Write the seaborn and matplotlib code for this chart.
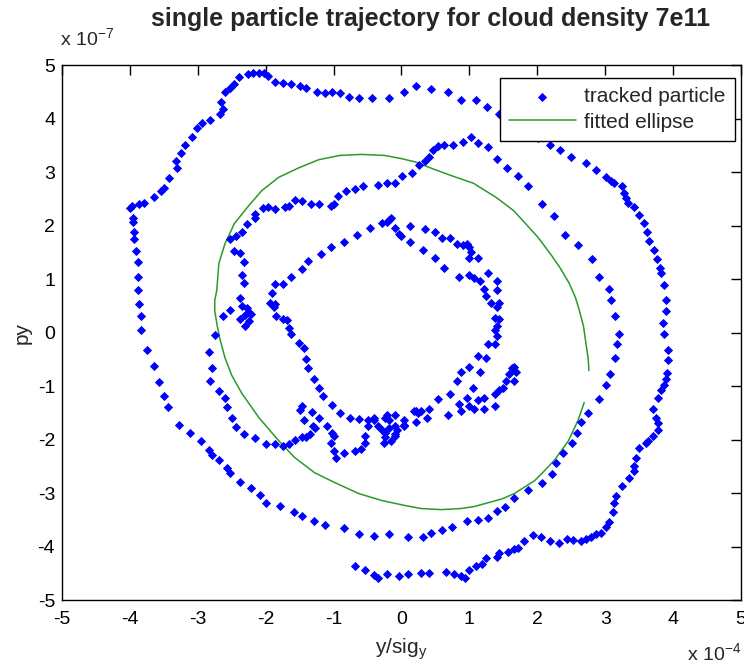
import numpy as np
import pandas as pd
from matplotlib import pyplot as plt
import seaborn as sns

# trajectory values, x in units of 1e-4 (y/sig_y), y in units of 1e-7 (py)
traj_x = [
    -0.69, -0.54, -0.41, -0.34, -0.22, -0.04, 0.10, 0.29, 0.41, 0.66, 0.78, 0.88, 0.93, 1.00, 1.10, 1.18,
    1.25, 1.40, 1.44, 1.57, 1.66, 1.72, 1.81, 1.94, 2.06, 2.18, 2.32, 2.43, 2.53, 2.65, 2.72, 2.79,
    2.87, 2.94, 3.01, 3.06, 3.12, 3.13, 3.16, 3.24, 3.35, 3.43, 3.43, 3.46, 3.50, 3.60, 3.63, 3.71,
    3.78, 3.78, 3.75, 3.71, 3.78, 3.82, 3.87, 3.90, 3.91, 3.93, 3.93, 3.87, 3.85, 3.90, 3.90, 3.87,
    3.82, 3.81, 3.76, 3.72, 3.65, 3.62, 3.57, 3.50, 3.43, 3.34, 3.31, 3.28, 3.24, 3.13, 3.09, 3.01,
    2.87, 2.72, 2.50, 2.34, 2.18, 2.01, 1.84, 1.65, 1.54, 1.44, 1.26, 1.09, 0.87, 0.68, 0.44, 0.22,
    0.03, -0.19, -0.43, -0.62, -0.78, -0.91, -1.03, -1.13, -1.25, -1.40, -1.49, -1.62, -1.74, -1.87, -1.96, -2.03,
    -2.10, -2.18, -2.26, -2.40, -2.47, -2.53, -2.60, -2.66, -2.63, -2.68, -2.82, -2.94, -3.01, -3.09, -3.19, -3.25,
    -3.32, -3.31, -3.43, -3.50, -3.54, -3.65, -3.79, -3.87, -3.97, -4.00, -3.96, -3.96, -3.94, -3.94, -3.91, -3.88,
    -3.88, -3.88, -3.87, -3.84, -3.84, -3.75, -3.65, -3.57, -3.50, -3.44, -3.28, -3.12, -2.96, -2.84, -2.79, -2.69,
    -2.57, -2.53, -2.38, -2.21, -2.09, -1.99, -1.79, -1.59, -1.47, -1.29, -1.12, -0.84, -0.63, -0.40, -0.18, 0.10,
    0.32, 0.44, 0.60, 0.74, 0.97, 1.12, 1.28, 1.40, 1.53, 1.66, 1.87, 2.07, 2.21, 2.28, 2.38, 2.51,
    2.59, 2.65, 2.75, 2.91, 3.01, 3.07, 3.15, 3.18, 3.21, 3.15, 3.09, 3.06, 2.91, 2.81, 2.60, 2.41,
    2.24, 2.07, 1.87, 1.71, 1.56, 1.41, 1.28, 1.13, 1.03, 0.91, 0.76, 0.63, 0.54, 0.46, 0.41, 0.34,
    0.26, 0.15, 0.01, -0.10, -0.21, -0.35, -0.56, -0.69, -0.81, -0.93, -1.00, -1.04, -1.21, -1.34, -1.47, -1.57,
    -1.65, -1.72, -1.87, -1.96, -2.04, -2.16, -2.16, -2.28, -2.35, -2.43, -2.53, -2.47, -2.38, -2.32, -2.35, -2.32,
    -2.38, -2.35, -2.28, -2.24, -2.31, -2.38, -2.25, -2.31, -2.21, -2.53, -2.63, -2.75, -2.84, -2.79, -2.82, -2.69,
    -2.60, -2.57, -2.49, -2.44, -2.32, -2.16, -2.00, -1.87, -1.74, -1.66, -1.57, -1.47, -1.40, -1.35, -1.28, -1.31,
    -1.43, -1.49, -1.46, -1.32, -1.22, -1.10, -1.03, -0.99, -1.04, -0.99, -0.97, -0.84, -0.69, -0.59, -0.54, -0.54,
    -0.49, -0.41, -0.34, -0.29, -0.25, -0.26, -0.15, -0.10, -0.07, -0.10, -0.18, -0.25, -0.10, 0.04, 0.03, 0.22,
    0.22, 0.29, -0.22, -0.19, -0.25, -0.10, 0.04, 0.19, 0.25, 0.40, 0.37, 0.54, 0.69, 0.72, 0.82, 0.84,
    0.88, 0.96, 0.99, 1.06, 1.07, 1.13, 1.15, 1.22, 1.22, 1.37, 1.37, 1.44, 1.50, 1.54, 1.59, 1.62,
    1.66, 1.69, 1.65, 0.88, 0.99, 1.12, 1.25, 1.28, 1.37, 1.40, 1.37, 1.40, 1.38, 1.43, 1.40, 1.32,
    1.43, 1.25, 1.21, 1.15, 1.07, 0.99, 1.13, 1.28, 1.40, 1.40, 1.00, 1.03, 0.99, 0.96, 0.91, 0.85,
    0.81, 0.71, 0.63, 0.59, 0.49, 0.49, 0.34, 0.32, 0.12, 0.12, 0.00, -0.10, -0.15, -0.19, -0.22, -0.29,
    -0.03, -0.47, -0.65, -0.85, -1.04, -1.19, -1.37, -1.46, -1.62, -1.75, -1.87, -1.90, -1.94, -1.87, -1.88, -1.85,
    -1.74, -1.68, -1.66, -1.62, -1.51, -1.44, -1.40, -1.38, -1.29, -1.22, -1.15, -1.03, -0.91, -0.76, -0.62, -0.49,
    -0.40,
]
traj_y = [
    -4.36, -4.43, -4.54, -4.58, -4.52, -4.56, -4.52, -4.50, -4.50, -4.47, -4.52, -4.56, -4.58, -4.43, -4.37, -4.32,
    -4.22, -4.19, -4.13, -4.11, -4.04, -4.02, -3.89, -3.79, -3.83, -3.89, -3.94, -3.85, -3.87, -3.89, -3.85, -3.83,
    -3.76, -3.74, -3.64, -3.55, -3.36, -3.18, -3.05, -2.86, -2.71, -2.58, -2.49, -2.34, -2.15, -2.07, -2.02, -1.93,
    -1.83, -1.70, -1.59, -1.42, -1.23, -1.08, -0.99, -0.86, -0.75, -0.52, -0.32, -0.02, 0.17, 0.41, 0.60, 0.88,
    1.12, 1.21, 1.38, 1.55, 1.72, 1.87, 2.04, 2.19, 2.34, 2.43, 2.52, 2.60, 2.73, 2.80, 2.84, 2.90,
    3.03, 3.16, 3.29, 3.42, 3.51, 3.63, 3.76, 3.93, 4.00, 4.09, 4.22, 4.34, 4.34, 4.50, 4.56, 4.60,
    4.50, 4.39, 4.39, 4.39, 4.41, 4.47, 4.50, 4.47, 4.49, 4.58, 4.60, 4.65, 4.67, 4.69, 4.80, 4.86,
    4.86, 4.86, 4.84, 4.77, 4.65, 4.58, 4.49, 4.30, 4.17, 4.09, 3.98, 3.91, 3.83, 3.66, 3.50, 3.36,
    3.21, 3.07, 2.88, 2.71, 2.65, 2.54, 2.43, 2.41, 2.36, 2.32, 2.15, 2.06, 1.87, 1.74, 1.53, 1.31,
    1.03, 0.80, 0.54, 0.30, 0.04, -0.32, -0.62, -0.92, -1.18, -1.40, -1.72, -1.87, -2.02, -2.19, -2.28, -2.39,
    -2.54, -2.62, -2.80, -2.90, -3.03, -3.18, -3.25, -3.36, -3.42, -3.53, -3.59, -3.66, -3.76, -3.81, -3.76, -3.83,
    -3.83, -3.74, -3.70, -3.63, -3.53, -3.50, -3.46, -3.33, -3.27, -3.10, -2.95, -2.82, -2.64, -2.43, -2.26, -2.07,
    -1.87, -1.68, -1.50, -1.25, -0.99, -0.77, -0.47, -0.21, -0.02, 0.30, 0.60, 0.82, 1.03, 1.38, 1.63, 1.83,
    2.17, 2.41, 2.73, 2.92, 3.08, 3.25, 3.46, 3.55, 3.66, 3.57, 3.51, 3.51, 3.48, 3.42, 3.29, 3.21,
    3.14, 2.99, 2.92, 2.80, 2.79, 2.75, 2.73, 2.69, 2.64, 2.56, 2.41, 2.37, 2.41, 2.41, 2.45, 2.47,
    2.36, 2.34, 2.30, 2.34, 2.32, 2.21, 2.15, 2.02, 1.87, 1.81, 1.74, 1.53, 1.48, 1.31, 1.07, 0.92,
    0.65, 0.50, 0.45, 0.37, 0.32, 0.26, 0.22, 0.13, 0.34, 0.43, 0.30, -0.04, -0.36, -0.67, -0.90, -1.10,
    -1.23, -1.40, -1.59, -1.76, -1.89, -1.98, -2.09, -2.09, -2.13, -2.09, -2.00, -1.96, -1.96, -1.89, -1.79, -1.74,
    -1.63, -1.44, -1.38, -1.48, -1.59, -1.74, -1.87, -1.93, -2.07, -2.21, -2.34, -2.26, -2.22, -2.17, -2.07, -1.93,
    -1.74, -1.64, -1.74, -1.83, -1.96, -2.07, -2.02, -1.93, -1.83, -1.74, -1.64, -1.59, -1.55, -1.63, -1.72, -1.68,
    -1.46, -1.46, -1.55, -1.78, -1.87, -1.89, -1.74, -1.46, -1.51, -1.42, -1.59, -1.25, -1.55, -1.14, -0.90, -1.33,
    -1.46, -1.23, -1.38, -1.03, -1.42, -1.27, -0.73, -1.23, -1.42, -1.38, -1.14, -1.08, -1.03, -0.90, -0.77, -0.67,
    -0.65, -0.73, -0.90, -0.73, -0.64, -0.43, -0.47, -0.22, -0.22, -0.07, 0.04, 0.13, 0.28, 0.26, 0.47, 0.56,
    0.56, 0.69, 0.82, 0.97, 1.01, 1.07, 1.40, 1.12, 0.97, 0.79, 1.40, 1.50, 1.59, 1.66, 1.63, 1.03,
    1.66, 1.76, 1.21, 1.76, 1.40, 1.87, 1.94, 1.55, 1.70, 2.00, 1.81, 1.96, 2.15, 2.11, 2.06, 2.04,
    1.85, 1.96, 1.83, 1.70, 1.59, 1.46, 1.33, 1.18, 1.03, 0.90, 0.90, 0.73, 0.56, 0.54, 0.47, 0.30,
    0.26, 0.24, 0.09, -0.02, -0.19, -0.28, -0.49, -0.67, -0.86, -1.03, -1.18, -1.35, -1.51, -1.59, -1.61, -1.64,
    -1.59,
]

# fitted ellipse (same units)
ell_x = [2.69, 2.60, 2.46, 2.25, 2.10, 1.96, 1.66, 1.48, 1.28, 1.08, 0.88, 0.58, 0.29, 0.04, -0.29, -0.63,
         -0.99, -1.28, -1.57, -1.81, -2.10, -2.35, -2.50, -2.60, -2.68, -2.72, -2.75, -2.75, -2.72, -2.69, -2.60, -2.46,
         -2.25, -2.06, -1.81, -1.51, -1.22, -0.91, -0.59, -0.25, 0.00, 0.20, 0.44, 0.74, 1.06, 1.40, 1.65, 1.81,
         2.01, 2.21, 2.34, 2.47, 2.56, 2.62, 2.68, 2.71, 2.75, 2.76]
ell_y = [-1.31, -1.64, -2.02, -2.39, -2.59, -2.77, -3.01, -3.11, -3.18, -3.25, -3.29, -3.31, -3.29, -3.23, -3.14, -3.01,
         -2.80, -2.62, -2.34, -2.02, -1.59, -1.14, -0.80, -0.47, -0.09, 0.17, 0.41, 0.60, 0.79, 1.29, 1.66, 2.04,
         2.37, 2.65, 2.90, 3.08, 3.23, 3.31, 3.33, 3.31, 3.25, 3.19, 3.07, 2.93, 2.79, 2.52, 2.28, 2.06,
         1.78, 1.44, 1.20, 0.92, 0.66, 0.41, 0.12, -0.15, -0.49, -0.71]

ticks = [-5, -4, -3, -2, -1, 0, 1, 2, 3, 4, 5]

traj = pd.DataFrame({'x': traj_x, 'y': traj_y})
ell = pd.DataFrame({'x': ell_x, 'y': ell_y})

sns.set_style('white')
plt.rcParams['font.family'] = ['Liberation Sans', 'DejaVu Sans']
plt.rcParams['mathtext.fontset'] = 'custom'
plt.rcParams['mathtext.rm'] = 'Liberation Sans'

fig = plt.figure(figsize=(7.44, 6.65), dpi=100)
ax = fig.add_axes([0.0833, 0.0977, 0.9127, 0.8045])

sns.scatterplot(x='x', y='y', data=traj, marker='D', color='#0000ff', s=22, linewidth=0,
                label='tracked particle', ax=ax, zorder=3)
sns.lineplot(x='x', y='y', data=ell, sort=False, estimator=None, color='#2a9a2a', linewidth=1.1,
             label='fitted ellipse', ax=ax)

ax.set_xlim(-5, 5)
ax.set_ylim(-5, 5)
ax.set_xticks(ticks)
ax.set_yticks(ticks)
ax.set_xticklabels([str(t) for t in ticks])
ax.set_yticklabels([str(t) for t in ticks])
ax.tick_params(direction='in', top=True, right=True, length=7, width=1, labelsize=14, colors='black')
ax.tick_params(axis='x', pad=8)
ax.tick_params(axis='y', pad=5)
for s in ax.spines.values():
    s.set_color('black')
    s.set_linewidth(1)

ax.set_xlabel('y/sig$_\\mathregular{y}$', fontsize=15, labelpad=6)
ax.set_ylabel('py', fontsize=15, labelpad=4)
ax.set_title('single particle trajectory for cloud density 7e11', fontsize=18, fontweight='bold',
             pad=28, x=0.543)
ax.text(-0.003, 1.028, 'x 10$^{-7}$', transform=ax.transAxes, fontsize=14, ha='left', va='bottom')
ax.text(1.0, -0.08, 'x 10$^{-4}$', transform=ax.transAxes, fontsize=14, ha='right', va='top')

leg = ax.legend(loc='upper right', bbox_to_anchor=(0.991, 0.976), frameon=True, fancybox=False,
                edgecolor='black', framealpha=1, fontsize=15, handlelength=3.2, borderaxespad=0,
                scatterpoints=1, borderpad=0.45, labelspacing=0.3, handletextpad=0.4)
leg.get_frame().set_linewidth(1)

fig.savefig('out.png', dpi=100)
